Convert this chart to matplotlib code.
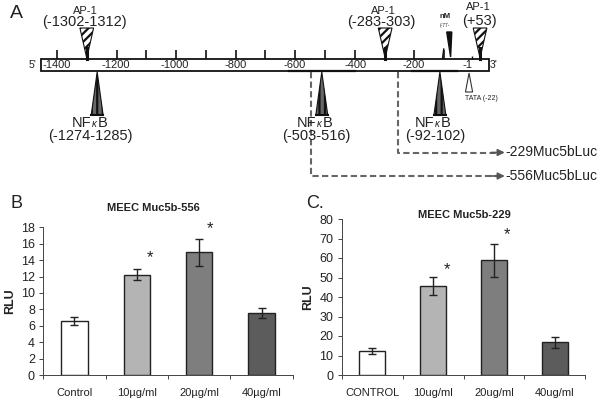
# plot.py - Muc5b promoter map (A) and luciferase bars (B, C)
import matplotlib
matplotlib.use("Agg")
import matplotlib.pyplot as plt

W, H = 602, 403
plt.rcParams['font.family'] = ['Liberation Sans', 'DejaVu Sans']
plt.rcParams['hatch.linewidth'] = 1.6

# panel B
labels_b = ["Control", "10µg/ml", "20µg/ml", "40µg/ml"]
rlu_b = [6.6, 12.2, 15.0, 7.6]
err_low_b = [0.45, 0.6, 1.7, 0.6]
err_up_b = [0.5, 0.7, 1.55, 0.6]
ticks_b = [0, 2, 4, 6, 8, 10, 12, 14, 16, 18]

# panel C
labels_c = ["CONTROL", "10ug/ml", "20ug/ml", "40ug/ml"]
rlu_c = [12.2, 45.5, 59.0, 16.8]
err_low_c = [1.2, 4.5, 8.8, 3.0]
err_up_c = [1.4, 4.7, 8.4, 2.6]
ticks_c = [0, 10, 20, 30, 40, 50, 60, 70, 80]

bar_colors = ["white", "#b4b4b4", "#7e7e7e", "#5c5c5c"]

# panel A, positions along the promoter in bp
map_start, map_end = -1455, 52
map_ticks = [-1400, -1200, -1100, -1000, -900, -800, -700, -600, -500, -400, -200, -100]
map_labels = ["-1400", "-1200", "-1000", "-800", "-600", "-400", "-200", "-1"]
map_label_pos = [-1400, -1202, -1003, -798, -600, -398, -200, -20]
ap1_pos = [-1300, -297, 22]
ap1_names = ["(-1302-1312)", "(-283-303)", "(+53)"]
nfkb_pos = [-1265, -510, -113]
nfkb_names = ["(-1274-1285)", "(-503-516)", "(-92-102)"]
cut_pos = [-255, -546]
cut_names = ["-229Muc5bLuc", "-556Muc5bLuc"]


def px_text(x, y, s, **kw):
    # text placed by reference pixel
    kw.setdefault("ha", "center")
    kw.setdefault("va", "center")
    kw.setdefault("color", "#222222")
    fig.text(x / W, 1 - y / H, s, **kw)


def nfkb_text(x, y):
    # small italic kappa between NF and B
    px_text(x - 1, y, "NF", fontsize=10.5, ha="right")
    px_text(x + 2.5, y + 1, "κ", fontsize=7, style="italic")
    px_text(x + 6, y, "B", fontsize=10.5, ha="left")


def bar_panel(x0, x1, y0, y1, labels, vals, low, up, ticks):
    ax = fig.add_axes([x0 / W, 1 - y1 / H, (x1 - x0) / W, (y1 - y0) / H])
    pos = range(len(vals))
    ax.bar(pos, vals, width=0.42, color=bar_colors, edgecolor="#222222", linewidth=1.0,
           yerr=[low, up], error_kw=dict(ecolor="#222222", elinewidth=1.0, capsize=3, capthick=1.0))
    ax.set_xlim(-0.5, 3.5)
    ax.set_ylim(ticks[0], ticks[-1])
    ax.set_yticks(ticks)
    ax.set_xticks([-0.5, 0.5, 1.5, 2.5, 3.5])
    ax.set_xticklabels([])
    ax.set_xticks(list(pos), labels, minor=True)
    ax.tick_params(axis="x", which="minor", length=0, labelsize=8, pad=9, labelcolor="#222222")
    ax.tick_params(axis="x", which="major", length=3, width=0.7, color="#444444")
    ax.tick_params(axis="y", length=3, width=0.7, color="#444444", labelsize=9, pad=3, labelcolor="#222222")
    for side in ["top", "right"]:
        ax.spines[side].set_visible(False)
    for side in ["left", "bottom"]:
        ax.spines[side].set_color("#444444")
        ax.spines[side].set_linewidth(0.7)
    return ax


fig = plt.figure(figsize=(W / 100, H / 100), dpi=100)

# A: the whole figure as one axes, x in bp and y in pixels
ax_a = fig.add_axes([0, 0, 1, 1])
ax_a.set_xlim(-1591.6, 431.9)
ax_a.set_ylim(H, 0)
ax_a.axis("off")

ax_a.fill([map_start, map_end, map_end, map_start], [59, 59, 71, 71],
          facecolor="white", edgecolor="#111111", linewidth=1.3)
ax_a.plot([-620, -400], [71.3, 71.3], color="#111111", lw=1.6)
ax_a.plot([-208, -57], [71.3, 71.3], color="#111111", lw=1.6)
ax_a.vlines(map_ticks, 49.5, 59, color="#111111", lw=1.2)
ax_a.vlines([-5], 56, 59, color="#111111", lw=1.0)
for pos, lab in zip(map_label_pos, map_labels):
    ax_a.text(pos, 65.5, lab, ha="center", va="center", fontsize=8, color="#222222")

# AP-1 sites
for pos in ap1_pos:
    ax_a.fill([pos - 23, pos + 23, pos], [28, 28, 58], facecolor="white", edgecolor="#111111",
              hatch="////", linewidth=0.8)
    ax_a.plot([pos, pos], [48, 59], color="#111111", lw=2.2)

# NFkB sites
for pos in nfkb_pos:
    ax_a.fill([pos - 20, pos + 20, pos], [115, 115, 72], facecolor="#666666", edgecolor="#111111",
              hatch="|||", linewidth=0.8)
    ax_a.plot([pos - 20, pos + 20], [115, 115], color="#111111", lw=1.5)

# nM and TATA
ax_a.fill([-90, -73, -77], [32, 32, 57], color="#111111")
ax_a.plot([-104, -100], [58, 49], color="#111111", lw=1.0)
ax_a.fill([-27, -3, -15], [92, 92, 73], facecolor="white", edgecolor="#333333", linewidth=0.8)

# dashed deletion lines
for pos, y, name in zip(cut_pos, [152.5, 176], cut_names):
    ax_a.plot([pos, pos, 85], [72, y, y], color="#666666", lw=1.5, ls=(0, (3, 1.6)))
    ax_a.annotate("", xy=(105, y), xytext=(60, y),
                  arrowprops=dict(arrowstyle="-|>", color="#555555", lw=1.2, shrinkA=0, shrinkB=0))
    ax_a.text(108, y, name, ha="left", va="center", fontsize=10, color="#222222")

px_text(16, 14, "A", fontsize=14)
px_text(33, 64.5, "5'", fontsize=7.5)
px_text(494, 65, "3'", fontsize=7.5)

px_text(85, 11, "AP-1", fontsize=8)
px_text(84, 22, ap1_names[0], fontsize=10.5)
px_text(383, 11, "AP-1", fontsize=8)
px_text(381, 22, ap1_names[1], fontsize=10.5)
px_text(478, 7.5, "AP-1", fontsize=8)
px_text(479, 20.5, ap1_names[2], fontsize=10.5)

nfkb_text(92, 123)
px_text(90, 136, nfkb_names[0], fontsize=10.5)
nfkb_text(317, 123)
px_text(316, 136, nfkb_names[1], fontsize=10.5)
nfkb_text(435, 123)
px_text(435, 136, nfkb_names[2], fontsize=10.5)

px_text(445, 17, "nM", fontsize=5.5, fontweight="bold")
px_text(445, 25.5, "(-77-", fontsize=3.5)
px_text(481, 99, "TATA (-22)", fontsize=5)

# B and C
bar_panel(43.3, 292.7, 227.3, 375, labels_b, rlu_b, err_low_b, err_up_b, ticks_b)
bar_panel(341.7, 585.3, 219, 375, labels_c, rlu_c, err_low_c, err_up_c, ticks_c)

px_text(16, 204, "B", fontsize=13)
px_text(315, 204, "C.", fontsize=13)
px_text(153, 208, "MEEC Muc5b-556", fontsize=8, fontweight="bold")
px_text(464, 215, "MEEC Muc5b-229", fontsize=8, fontweight="bold")
px_text(10, 301, "RLU", fontsize=9, fontweight="bold", rotation=90)
px_text(308, 297, "RLU", fontsize=9, fontweight="bold", rotation=90)
for x, y in [(149.5, 258), (209.5, 229), (447, 270), (506.5, 235)]:
    px_text(x, y, "*", fontsize=12)

plt.savefig("out.png", dpi=100)
